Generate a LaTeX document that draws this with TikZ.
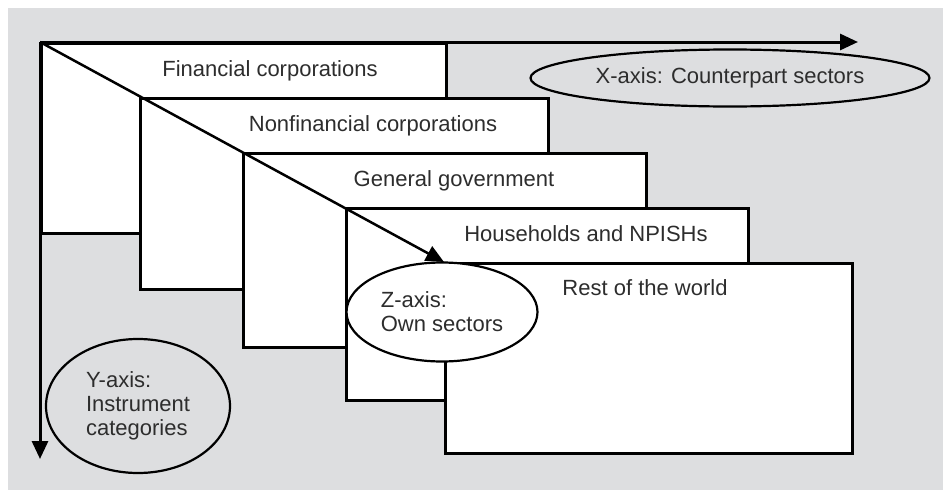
\documentclass[tikz,border=0pt]{standalone}
\usepackage{fontspec}
\setmainfont{Liberation Sans}
\usetikzlibrary{arrows.meta,shapes.geometric,positioning}
\usepackage{xcolor}
\definecolor{panelgray}{RGB}{221,222,224}
\definecolor{inkgray}{RGB}{45,45,45}

\begin{document}
\begin{tikzpicture}[
	x=1pt,y=-1pt,
	sector/.style={draw,rectangle,fill=white,line width=3pt,anchor=north west,inner sep=0pt},
	lbl/.style={anchor=base,font=\fontsize{22}{24}\selectfont,text=inkgray},
	axisname/.style={draw,ellipse,line width=2.2pt,inner sep=0pt,align=left,font=\fontsize{22}{24}\selectfont,text=inkgray},
	axisarrow/.style={-{Triangle[length=18pt,width=16pt]},line width=3pt}
	]
	
	% Hintergrund
	\useasboundingbox (0,0) rectangle (943,490);
	\fill[panelgray] (8,8) rectangle (943,490);
	
	% Sektoren
	\node[sector,minimum width=405pt,minimum height=190pt] (fin) at (40,42) {};
	\node[sector,minimum width=408pt,minimum height=191pt] (nonfin) at (139,97) {};
	\node[sector,minimum width=403pt,minimum height=194pt] (gov) at (242,152) {};
	\node[sector,minimum width=402pt,minimum height=192pt] (hh) at (345,207) {};
	\node[sector,minimum width=407pt,minimum height=190pt] (row) at (444,262) {};
	
	% Beschriftungen
	\node[lbl] (finlbl) at (270,76) {Financial corporations};
	\node[lbl] (nonfinlbl) at (373,131) {Nonfinancial corporations};
	\node[lbl] (govlbl) at (454,186) {General government};
	\node[lbl] (hhlbl) at (586,241) {Households and NPISHs};
	\node[lbl] (rowlbl) at (645,295) {Rest of the world};
	
	% Achsen
	\coordinate (origin) at (40,42);
	\coordinate (xend) at (858,42);
	\coordinate (yend) at (40,459);
	\draw[axisarrow] (origin) -- (xend);
	\draw[axisarrow] (origin) -- (yend);
	\draw[axisarrow,line width=2.5pt] (origin) -- (row.north west);
	
	% Achsennamen
	\node[axisname,minimum width=399pt,minimum height=57pt] (xaxis) at (730,78) {X-axis: Counterpart sectors};
	\node[axisname,fill=white,minimum width=191pt,minimum height=99pt] (zaxis) at (442,312) {Z-axis:\\Own sectors};
	\node[axisname,minimum width=184pt,minimum height=134pt] (yaxis) at (138,406) {Y-axis:\\Instrument\\categories};
	
\end{tikzpicture}
\end{document}
